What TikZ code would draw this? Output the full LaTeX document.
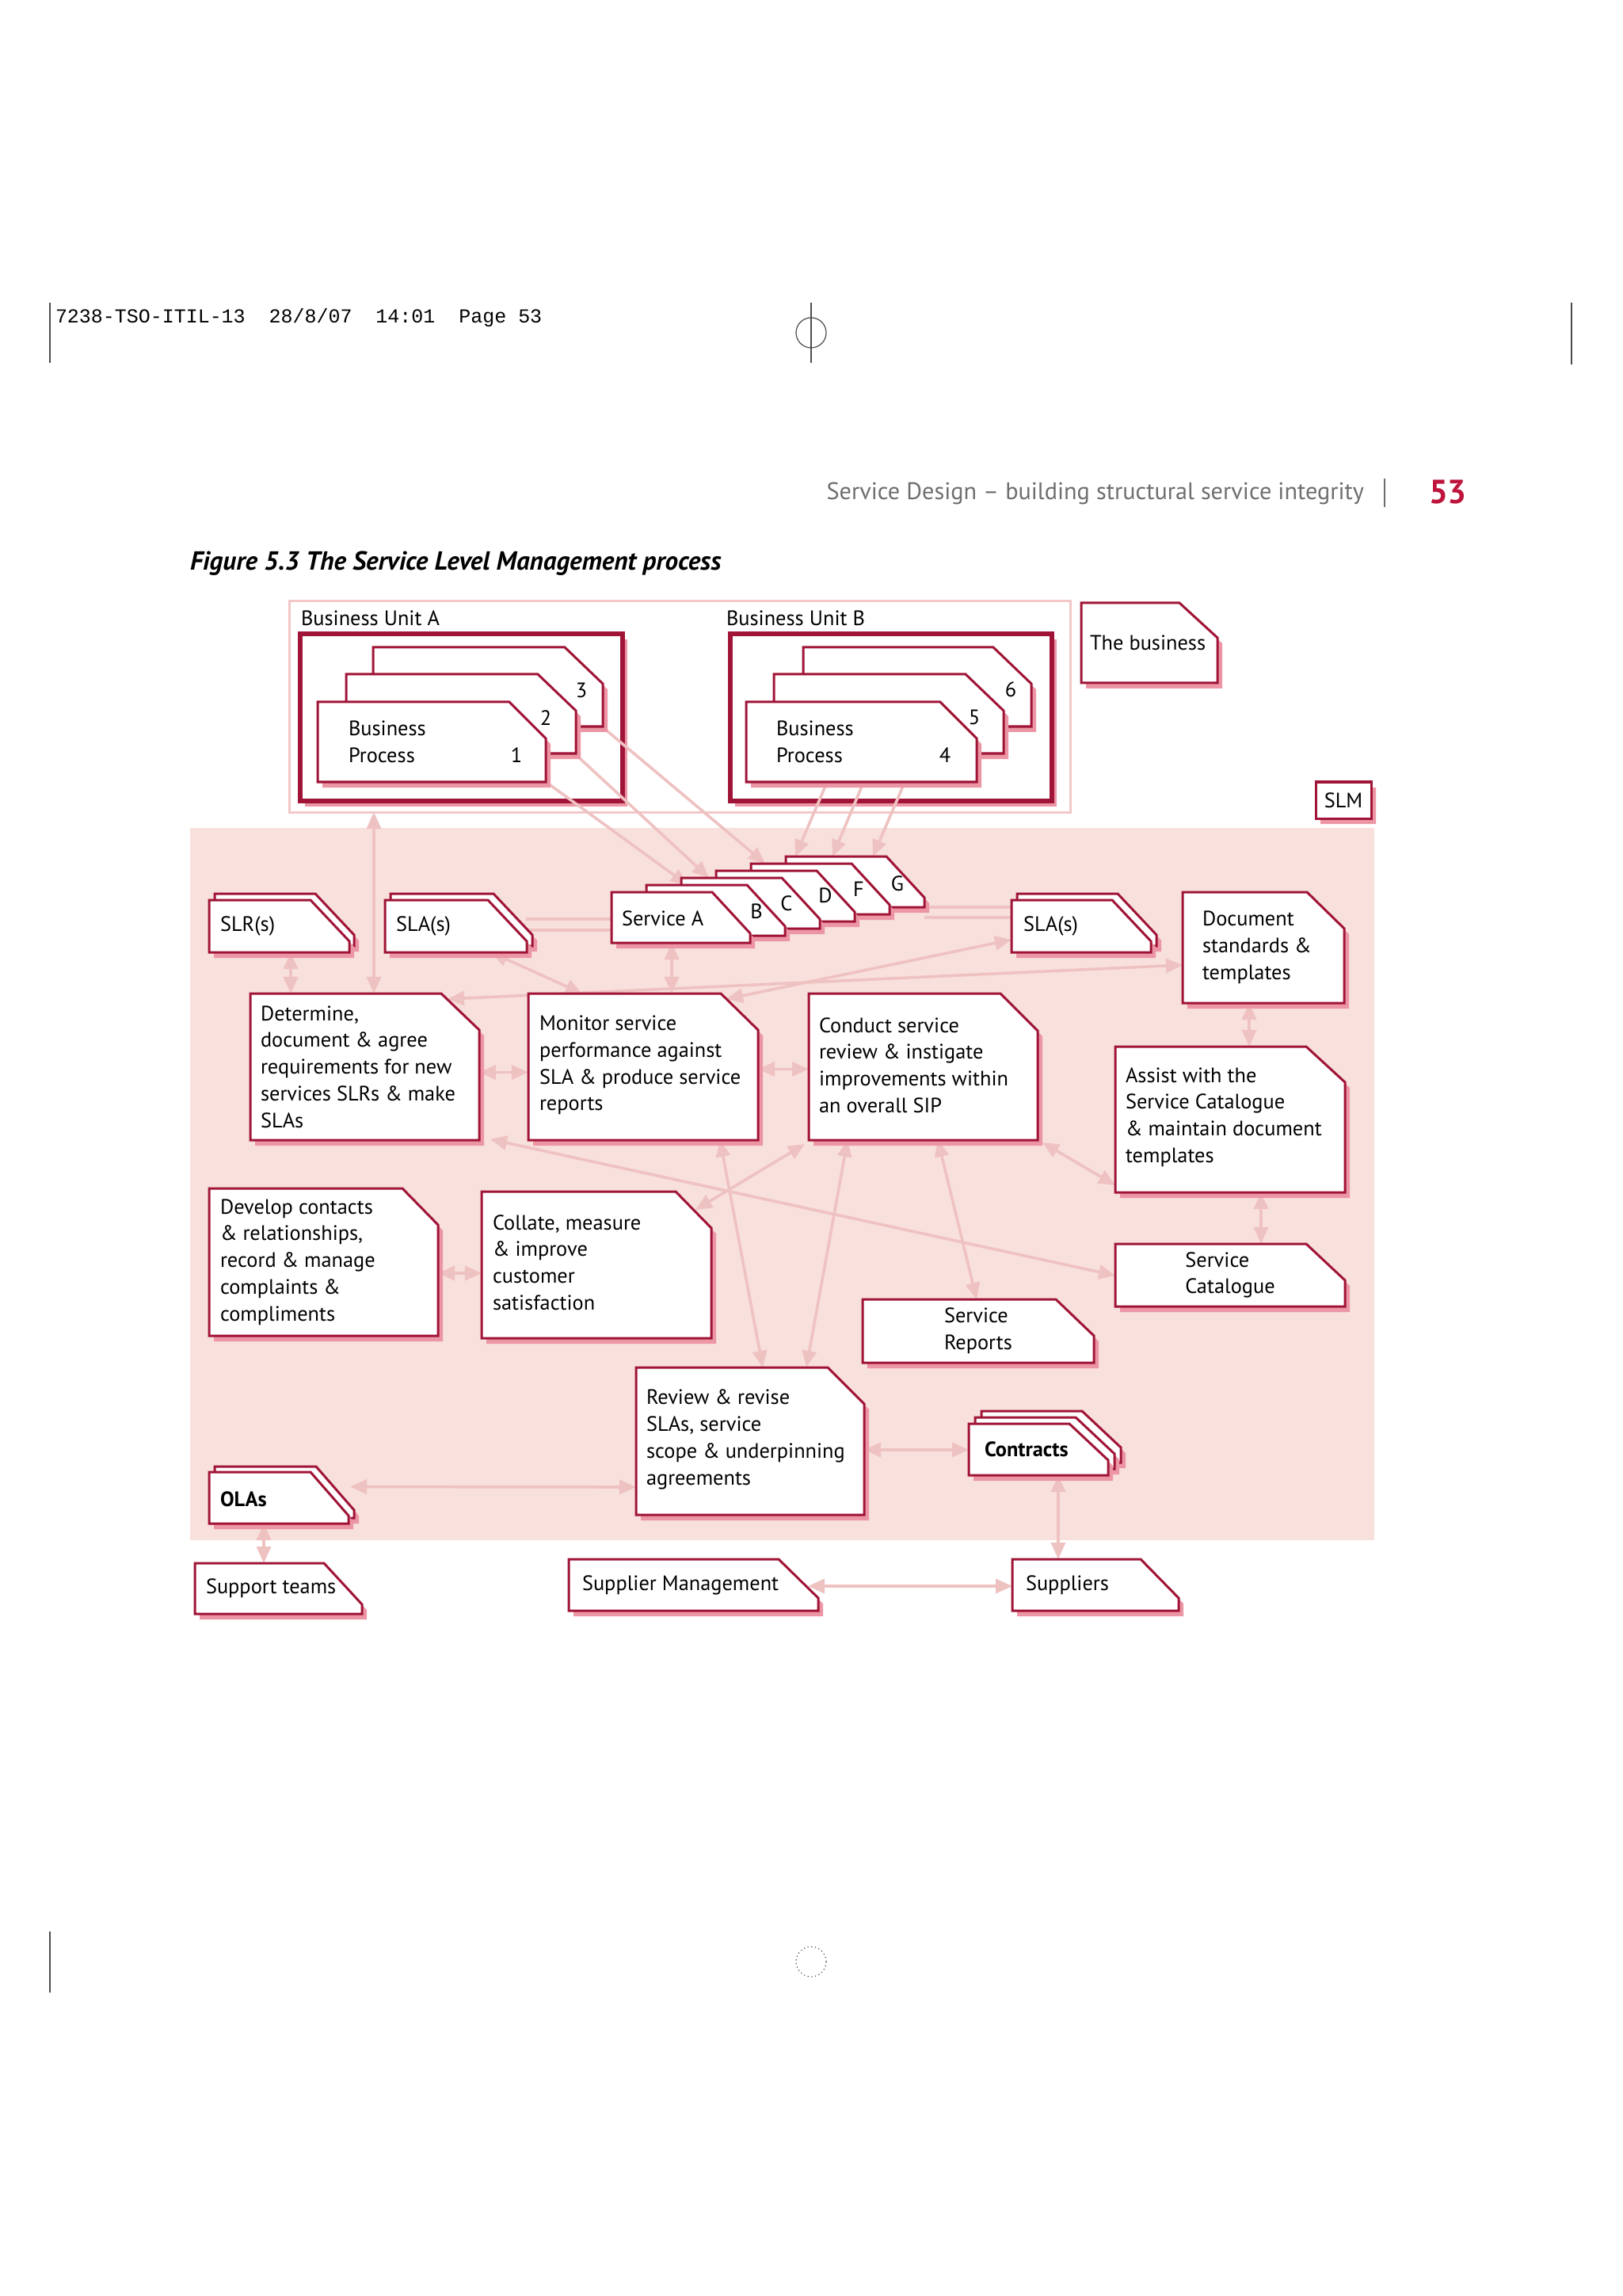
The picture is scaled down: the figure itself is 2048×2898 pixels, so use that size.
\documentclass[tikz,border=0pt]{standalone}
\usepackage{fontspec}
\setmainfont{PT Sans}
\setmonofont{Liberation Mono}
\usetikzlibrary{fit,arrows.meta}
\definecolor{crim}{RGB}{160,20,55}
\definecolor{shad}{RGB}{236,150,165}
\definecolor{slmbg}{RGB}{248,224,220}
\definecolor{arrc}{RGB}{239,194,194}
\definecolor{bucol}{RGB}{242,200,200}
\definecolor{red53}{RGB}{190,20,60}
\definecolor{hdrgray}{RGB}{110,110,110}
\pgfdeclarelayer{bg}\pgfdeclarelayer{arr}\pgfdeclarelayer{shp}
\pgfsetlayers{bg,arr,shp,main}
\newcommand\cardout[3]{%
  \fill[shad] ([shift={(6,7)}]#1.north west) -- ([shift={(6-#2,7)}]#1.north east) -- ([shift={(6,7+#3)}]#1.north east) -- ([shift={(6,7)}]#1.south east) -- ([shift={(6,7)}]#1.south west) -- cycle;
  \filldraw[cardline] (#1.north west) -- ([shift={(-#2,0)}]#1.north east) -- ([shift={(0,#3)}]#1.north east) -- (#1.south east) -- (#1.south west) -- cycle;}
\begin{document}
\begin{tikzpicture}[x=0.01cm,y=-0.01cm,
  font=\fontsize{7.5}{9.6}\selectfont,
  box/.style={inner sep=0pt, outer sep=0pt},
  lbl/.style={inner sep=0pt, outer sep=0pt},
  txt/.style={inner sep=0pt, outer sep=0pt, align=left, anchor=west},
  cardline/.style={fill=white, draw=crim, line width=0.03cm, line join=miter},
  conn/.style={draw=arrc, line width=0.036cm},
  >={Triangle[width=0.18cm,length=0.21cm]}]
\useasboundingbox (0,0) rectangle (2048,2898);

% ---- page furniture ----
\node[lbl, anchor=west, font=\ttfamily\fontsize{7.1}{8}\selectfont] (slug) at (70,401) {7238-TSO-ITIL-13\ \ 28/8/07\ \ 14:01\ \ Page 53};
\draw[black!70, line width=0.012cm] (63,382) -- (63,458);
\draw[black!70, line width=0.012cm] (1024,382) -- (1024,458);
\draw[black!70, line width=0.012cm] (1024,420) circle [radius=19];
\draw[black!70, line width=0.012cm] (1984,382) -- (1984,460);
\draw[black!70, line width=0.012cm] (63,2438) -- (63,2515);
\draw[black!70, line width=0.012cm, densely dotted] (1024,2476) circle [radius=19];
\node[lbl, anchor=east, text=hdrgray, font=\fontsize{8.6}{10}\selectfont] (hdr) at (1722,623) {Service Design -- building structural service integrity};
\draw[hdrgray, line width=0.015cm] (1748,604) -- (1748,640);
\node[lbl, anchor=west, text=red53, font=\bfseries\fontsize{12}{14}\selectfont] (pgno) at (1804,621) {53};
\node[lbl, anchor=west, font=\bfseries\itshape\fontsize{9.4}{11}\selectfont] (cap) at (240,711) {Figure 5.3 The Service Level Management process};

% ---- boxes ----
\node[box, fit={(365,759)(1351,1025)}] (buc) {};
\node[box, fit={(379,800)(786,1011)}] (bua) {};
\node[box, fit={(922,800)(1328,1011)}] (bub) {};
\node[box, fit={(471,817)(761,917)}] (a3) {};
\node[box, fit={(437,851)(727,951)}] (a2) {};
\node[box, fit={(401,886)(689,987)}] (a1) {};
\node[box, fit={(1014,817)(1302,917)}] (b6) {};
\node[box, fit={(977,851)(1267,951)}] (b5) {};
\node[box, fit={(942,886)(1233,987)}] (b4) {};
\node[box, fit={(1365,761)(1537,862)}] (biz) {};
\node[box, fit={(1661,987)(1731,1033)}] (slm) {};
\node[box, fit={(240,1045)(1735,1944)}] (slmarea) {};
\node[box, fit={(271,1128)(447,1194)}] (slrb) {};
\node[box, fit={(264,1136)(441,1202)}] (slr) {};
\node[box, fit={(493,1128)(672,1194)}] (slab) {};
\node[box, fit={(486,1136)(665,1202)}] (sla) {};
\node[box, fit={(1284,1128)(1460,1194)}] (slarb) {};
\node[box, fit={(1277,1136)(1453,1202)}] (slar) {};
\node[box, fit={(992,1081)(1167,1145)}] (svG) {};
\node[box, fit={(948,1090)(1123,1154)}] (svF) {};
\node[box, fit={(904,1099)(1079,1163)}] (svD) {};
\node[box, fit={(860,1108)(1035,1172)}] (svC) {};
\node[box, fit={(816,1117)(991,1181)}] (svB) {};
\node[box, fit={(772,1126)(947,1190)}] (svA) {};
\node[box, fit={(1493,1126)(1697,1266)}] (doc) {};
\node[box, fit={(316,1254)(605,1439)}] (det) {};
\node[box, fit={(667,1254)(957,1439)}] (mon) {};
\node[box, fit={(1021,1254)(1310,1439)}] (con) {};
\node[box, fit={(1408,1321)(1698,1505)}] (asst) {};
\node[box, fit={(264,1500)(553,1686)}] (dev) {};
\node[box, fit={(608,1504)(898,1689)}] (col) {};
\node[box, fit={(1408,1570)(1698,1649)}] (cat) {};
\node[box, fit={(1089,1640)(1381,1720)}] (rep) {};
\node[box, fit={(803,1726)(1091,1912)}] (rev) {};
\node[box, fit={(271,1851)(447,1916)}] (olab) {};
\node[box, fit={(264,1858)(440,1923)}] (ola) {};
\node[box, fit={(1239,1781)(1415,1846)}] (ctr3) {};
\node[box, fit={(1231,1789)(1407,1854)}] (ctr2) {};
\node[box, fit={(1223,1797)(1399,1862)}] (ctr) {};
\node[box, fit={(246,1973)(457,2037)}] (sup) {};
\node[box, fit={(718,1968)(1033,2033)}] (sm) {};
\node[box, fit={(1278,1968)(1488,2033)}] (spl) {};

% ---- texts ----
\node[lbl, anchor=west] (bual) at (380,780) {Business Unit A};
\node[lbl, anchor=west] (bubl) at (917,780) {Business Unit B};
\node[lbl] (a3t) at (734,871) {3};
\node[lbl] (a2t) at (689,906) {2};
\node[txt] (a1t) at ([shift={(39,0)}]a1.west) {Business\\Process};
\node[lbl] (a1n) at (652,953) {1};
\node[lbl] (b6t) at (1276,870) {6};
\node[lbl] (b5t) at (1230,905) {5};
\node[txt] (b4t) at ([shift={(38,0)}]b4.west) {Business\\Process};
\node[lbl] (b4n) at (1193,953) {4};
\node[txt] (bizt) at ([shift={(11,0)}]biz.west) {The business};
\node[lbl] (slmt) at (slm.center) {SLM};
\node[txt] (slrt) at ([shift={(14,0)}]slr.west) {SLR(s)};
\node[txt] (slat) at ([shift={(14,0)}]sla.west) {SLA(s)};
\node[txt] (slart) at ([shift={(15,0)}]slar.west) {SLA(s)};
\node[lbl] (svGt) at (1133,1115) {G};
\node[lbl] (svFt) at (1084,1122) {F};
\node[lbl] (svDt) at (1042,1130) {D};
\node[lbl] (svCt) at (993,1140) {C};
\node[lbl] (svBt) at (955,1150) {B};
\node[txt] (svAt) at ([shift={(13,1)}]svA.west) {Service A};
\node[txt] (doct) at ([shift={(25,0)}]doc.west) {Document\\standards \&\\templates};
\node[txt] (dett) at ([shift={(13,0)}]det.west) {Determine,\\document \& agree\\requirements for new\\services SLRs \& make\\SLAs};
\node[txt] (mont) at ([shift={(14,-2)}]mon.west) {Monitor service\\performance against\\SLA \& produce service\\reports};
\node[txt] (cont) at ([shift={(13,-2)}]con.west) {Conduct service\\review \& instigate\\improvements within\\an overall SIP};
\node[txt] (asstt) at ([shift={(13,-3)}]asst.west) {Assist with the\\Service Catalogue\\\& maintain document\\templates};
\node[txt] (devt) at ([shift={(14,0)}]dev.west) {Develop contacts\\\& relationships,\\record \& manage\\complaints \&\\compliments};
\node[txt] (colt) at ([shift={(14,-3)}]col.west) {Collate, measure\\\& improve\\customer\\satisfaction};
\node[lbl, align=left] (catt) at (cat.center) {Service\\Catalogue};
\node[lbl, align=left] (rept) at (rep.center) {Service\\Reports};
\node[txt] (revt) at ([shift={(13,-2)}]rev.west) {Review \& revise\\SLAs, service\\scope \& underpinning\\agreements};
\node[txt, font=\bfseries\fontsize{7.5}{9.6}\selectfont] (olat) at ([shift={(14,2)}]ola.west) {OLAs};
\node[txt, font=\bfseries\fontsize{7.5}{9.6}\selectfont] (ctrt) at ([shift={(20,0)}]ctr.west) {Contracts};
\node[txt] (supt) at ([shift={(14,0)}]sup.west) {Support teams};
\node[txt] (smt) at ([shift={(17,0)}]sm.west) {Supplier Management};
\node[txt] (splt) at ([shift={(17,0)}]spl.west) {Suppliers};

% ---- background layer ----
\begin{pgfonlayer}{bg}
\fill[white] (0,0) rectangle (2048,2898);
\fill[slmbg] (slmarea.north west) rectangle (slmarea.south east);
\draw[bucol, line width=0.03cm, fill=white] (buc.north west) rectangle (buc.south east);
\fill[shad] ([shift={(6,7)}]bua.north west) rectangle ([shift={(6,7)}]bua.south east);
\draw[crim, line width=0.055cm, fill=white] (bua.north west) rectangle (bua.south east);
\fill[shad] ([shift={(6,7)}]bub.north west) rectangle ([shift={(6,7)}]bub.south east);
\draw[crim, line width=0.055cm, fill=white] (bub.north west) rectangle (bub.south east);
\end{pgfonlayer}

% ---- shapes ----
\begin{pgfonlayer}{shp}
\cardout{a3}{48}{46}\cardout{a2}{48}{46}\cardout{a1}{46}{46}
\cardout{b6}{48}{46}\cardout{b5}{48}{46}\cardout{b4}{46}{46}
\cardout{biz}{48}{44}
\cardout{slm}{0}{0}
\cardout{slrb}{49}{52}\cardout{slr}{49}{52}
\cardout{slab}{49}{52}\cardout{sla}{49}{52}
\cardout{slarb}{49}{52}\cardout{slar}{49}{52}
\cardout{svG}{48}{52}\cardout{svF}{48}{52}\cardout{svD}{48}{52}
\cardout{svC}{48}{52}\cardout{svB}{48}{52}\cardout{svA}{48}{52}
\cardout{doc}{47}{46}
\cardout{det}{48}{46}\cardout{mon}{47}{46}\cardout{con}{47}{47}
\cardout{asst}{49}{45}\cardout{dev}{45}{46}\cardout{col}{45}{46}
\cardout{cat}{49}{46}\cardout{rep}{48}{46}\cardout{rev}{46}{46}
\cardout{olab}{48}{55}\cardout{ola}{48}{55}
\cardout{ctr3}{49}{46}\cardout{ctr2}{49}{46}\cardout{ctr}{49}{46}
\cardout{sup}{48}{52}\cardout{sm}{50}{49}\cardout{spl}{48}{49}
\end{pgfonlayer}

% ---- connectors ----
\begin{pgfonlayer}{arr}
\draw[conn,<->] ([shift={(107,0)}]buc.south west) -- ([shift={(156,0)}]det.north west);
\draw[conn,->] ([shift={(-8,-6)}]a1.south east) -- ([shift={(52,0)}]svB.north west);
\draw[conn,->] ([shift={(-6,-4)}]a2.south east) -- ([shift={(35,0)}]svC.north west);
\draw[conn,->] ([shift={(-6,-4)}]a3.south east) -- ([shift={(18,0)}]svF.north west);
\draw[conn,->] ([shift={(104,-4)}]b4.south west) -- ([shift={(12,0)}]svG.north west);
\draw[conn,->] ([shift={(150,-4)}]b4.south west) -- ([shift={(59,0)}]svG.north west);
\draw[conn,->] ([shift={(202,-4)}]b4.south west) -- ([shift={(110,0)}]svG.north west);
\draw[conn] ([shift={(-8,-1)}]slab.east) -- ([shift={(0,2)}]svA.west);
\draw[conn] ([shift={(-8,13)}]slab.east) -- ([shift={(0,16)}]svA.west);
\draw[conn] ([shift={(-4,0)}]svG.south east) -- ([shift={(0,-24)}]slar.west);
\draw[conn] ([shift={(0,13)}]svG.south east) -- ([shift={(0,-11)}]slar.west);
\draw[conn,<->] ([shift={(103,0)}]slr.south west) -- ([shift={(51,0)}]det.north west);
\draw[conn,<->] ([shift={(134,0)}]sla.south west) -- ([shift={(68,0)}]mon.north west);
\draw[conn,<->] ([shift={(76,0)}]svA.south west) -- ([shift={(181,0)}]mon.north west);
\draw[conn,<->] ([shift={(-40,7)}]det.north east) -- ([shift={(0,22)}]doc.west);
\draw[conn,<->] ([shift={(-40,7)}]mon.north east) -- ([shift={(0,-16)}]slar.south west);
\draw[conn,<->] ([shift={(0,7)}]det.east) -- ([shift={(0,7)}]mon.west);
\draw[conn,<->] ([shift={(0,3)}]mon.east) -- ([shift={(0,3)}]con.west);
\draw[conn,<->] ([shift={(0,14)}]dev.east) -- ([shift={(0,10.5)}]col.west);
\draw[conn,<->] ([shift={(84,0)}]doc.south west) -- ([shift={(169,0)}]asst.north west);
\draw[conn,<->] ([shift={(184,0)}]asst.south west) -- ([shift={(184,0)}]cat.north west);
\draw[conn,<->] ([shift={(6,3)}]con.south east) -- ([shift={(0,-9)}]asst.south west);
\draw[conn,<->] ([shift={(14,-1)}]det.south east) -- ([shift={(0,0.5)}]cat.west);
\draw[conn,<->] ([shift={(-20,23)}]col.north east) -- ([shift={(-5,5)}]con.south west);
\draw[conn,<->] ([shift={(242,0)}]mon.south west) -- ([shift={(160,0)}]rev.north west);
\draw[conn,<->] ([shift={(49,0)}]con.south west) -- ([shift={(215,0)}]rev.north west);
\draw[conn,<->] ([shift={(163,0)}]con.south west) -- ([shift={(144,0)}]rep.north west);
\draw[conn,<->] ([shift={(0,11)}]rev.east) -- ([shift={(0,0.5)}]ctr.west);
\draw[conn,<->] ([shift={(-5,-7)}]olab.east) -- ([shift={(0,58)}]rev.west);
\draw[conn,<->] ([shift={(69,0)}]ola.south west) -- ([shift={(87,0)}]sup.north west);
\draw[conn,<->] ([shift={(113,0)}]ctr.south west) -- ([shift={(58,0)}]spl.north west);
\draw[conn,<->] ([shift={(-13,1.5)}]sm.east) -- ([shift={(0,1.5)}]spl.west);
\end{pgfonlayer}
\end{tikzpicture}
\end{document}
